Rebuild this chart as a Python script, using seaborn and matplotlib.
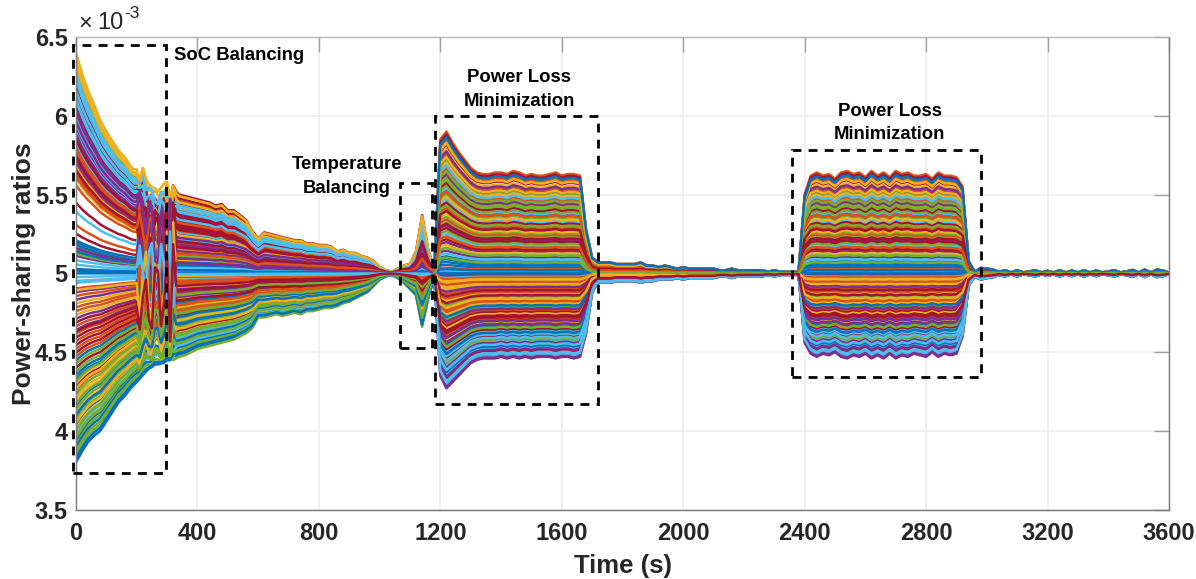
# coding: utf-8

import matplotlib
matplotlib.use("Agg")
import matplotlib.pyplot as plt
from matplotlib.patches import Rectangle
import seaborn as sns
import pandas as pd
import numpy as np

# MATLAB default line colours, the lines cycle through them
matlab_colors = ["#0072BD", "#D95319", "#EDB120", "#7E2F8E", "#77AC30", "#4DBEEE", "#A2142F"]

# sample times (s)
time = [0, 20, 40, 60, 80, 100, 120, 140, 160, 180,
        190, 200, 210, 220, 230, 240, 250, 260, 270, 280, 290, 300, 310, 320, 330,
        340, 360, 380, 400, 420, 440, 460, 480, 500, 520, 540, 560, 580, 600,
        620, 640, 660, 680, 700, 720, 740, 760, 780, 800, 820, 840, 860, 880, 900, 920, 940, 960, 980, 1000,
        1020, 1040, 1060, 1080, 1100, 1120, 1140, 1160, 1180, 1200,
        1220, 1240, 1260, 1280, 1300, 1320, 1340, 1360, 1380, 1400, 1420, 1440, 1460, 1480, 1500, 1520, 1540,
        1560, 1580, 1600, 1620, 1640, 1660,
        1680, 1700, 1720, 1740, 1760, 1780, 1800, 1820, 1840, 1860, 1880, 1900, 1920, 1940, 1960, 1980, 2000,
        2020, 2040, 2060, 2080, 2100, 2120, 2140, 2160, 2180, 2200, 2220, 2240, 2260, 2280, 2300, 2320, 2340,
        2360, 2380,
        2400, 2420, 2440, 2460, 2480, 2500, 2520, 2540, 2560, 2580, 2600, 2620, 2640, 2660, 2680, 2700, 2720,
        2740, 2760, 2780, 2800, 2820, 2840, 2860, 2880, 2900,
        2920, 2940, 2960, 2980, 3000, 3020, 3040, 3060, 3080, 3100, 3120, 3140, 3160, 3180, 3200, 3220, 3240,
        3260, 3280, 3300, 3320, 3340, 3360, 3380, 3400, 3420, 3440, 3460, 3480, 3500, 3520, 3540, 3560, 3580, 3600]

# outer edge of the bundle of lines (x 1e-3)
upper_edge = [6.40, 6.27, 6.16, 6.07, 5.97, 5.90, 5.84, 5.78, 5.74, 5.68,
              5.66, 5.66, 5.63, 5.70, 5.62, 5.60, 5.58, 5.55, 5.53, 5.57, 5.59, 5.59, 5.50, 5.56, 5.52,
              5.50, 5.49, 5.48, 5.47, 5.46, 5.45, 5.43, 5.44, 5.40, 5.40, 5.37, 5.34, 5.27, 5.22,
              5.26, 5.25, 5.24, 5.23, 5.22, 5.21, 5.21, 5.19, 5.19, 5.18, 5.18, 5.17, 5.14, 5.15, 5.13, 5.13, 5.11, 5.10, 5.08, 5.04,
              5.02, 5.01, 5.03, 5.05, 5.06, 5.14, 5.37, 5.15, 5.03, 5.85,
              5.90, 5.83, 5.77, 5.72, 5.67, 5.64, 5.63, 5.63, 5.64, 5.64, 5.63, 5.65, 5.64, 5.62, 5.63, 5.62, 5.62,
              5.63, 5.64, 5.62, 5.63, 5.63, 5.62,
              5.28, 5.10, 5.07, 5.07, 5.07, 5.06, 5.06, 5.06, 5.06, 5.07, 5.05, 5.05, 5.04, 5.05, 5.04, 5.03, 5.04, 5.03,
              5.03, 5.03, 5.03, 5.03, 5.02, 5.02, 5.03, 5.02, 5.02, 5.02, 5.02, 5.02, 5.01, 5.02, 5.01, 5.01,
              5.01, 5.01,
              5.50, 5.62, 5.64, 5.62, 5.63, 5.60, 5.64, 5.65, 5.63, 5.64, 5.61, 5.65, 5.62, 5.64, 5.61, 5.65, 5.63,
              5.64, 5.62, 5.62, 5.63, 5.60, 5.64, 5.62, 5.62, 5.61,
              5.55, 5.08, 5.01, 5.035, 5.03, 5.025, 5.01, 5.02, 5.006, 5.02, 5.006, 5.012, 5.02, 5.006, 5.016, 5.006, 5.02,
              5.006, 5.018, 5.006, 5.02, 5.006, 5.018, 5.006, 5.012, 5.02, 5.006, 5.012, 5.022, 5.006, 5.024, 5.006, 5.024, 5.018, 5.005]

lower_edge = [3.80, 3.87, 3.93, 3.97, 4.00, 4.06, 4.12, 4.18, 4.22, 4.27,
              4.29, 4.31, 4.33, 4.35, 4.37, 4.39, 4.40, 4.41, 4.41, 4.42, 4.42, 4.43, 4.44, 4.45, 4.46,
              4.47, 4.48, 4.50, 4.52, 4.53, 4.54, 4.55, 4.56, 4.57, 4.58, 4.60, 4.62, 4.65, 4.72,
              4.72, 4.73, 4.74, 4.73, 4.74, 4.75, 4.74, 4.76, 4.76, 4.77, 4.78, 4.78, 4.79, 4.81, 4.82, 4.84, 4.86, 4.88, 4.92, 4.96,
              4.98, 4.99, 4.97, 4.94, 4.90, 4.86, 4.66, 4.84, 4.97, 4.35,
              4.27, 4.31, 4.35, 4.39, 4.43, 4.45, 4.46, 4.46, 4.46, 4.47, 4.46, 4.47, 4.46, 4.47, 4.46, 4.47, 4.47,
              4.47, 4.46, 4.47, 4.47, 4.46, 4.47,
              4.62, 4.88, 4.94, 4.94, 4.94, 4.95, 4.95, 4.95, 4.95, 4.94, 4.95, 4.95, 4.96, 4.96, 4.96, 4.97, 4.96, 4.97,
              4.97, 4.97, 4.97, 4.97, 4.98, 4.98, 4.97, 4.98, 4.98, 4.98, 4.98, 4.98, 4.99, 4.98, 4.99, 4.99,
              4.99, 4.99,
              4.56, 4.49, 4.47, 4.49, 4.48, 4.50, 4.47, 4.46, 4.48, 4.47, 4.49, 4.46, 4.48, 4.46, 4.49, 4.46, 4.48,
              4.47, 4.49, 4.48, 4.47, 4.50, 4.47, 4.49, 4.48, 4.49,
              4.60, 4.92, 4.98, 4.96, 4.97, 4.975, 4.99, 4.98, 4.994, 4.98, 4.994, 4.988, 4.98, 4.994, 4.984, 4.994, 4.98,
              4.994, 4.982, 4.994, 4.98, 4.994, 4.982, 4.994, 4.988, 4.98, 4.994, 4.988, 4.978, 4.994, 4.976, 4.994, 4.976, 4.982, 4.995]

# where each line sits inside the bundle (-1 lower edge, 1 upper edge),
# one row per colour cycle: at the start, after the SoC phase, during power loss
start_level = [-1.00, 0.55, 1.00, 0.72, 0.93, 0.86, 0.44,
               -0.80, -0.62, 0.90, 0.66, 0.82, 0.77, 0.32,
               0.02, 0.50, -0.74, 0.60, -0.96, 0.70, 0.45,
               0.12, 0.46, 0.97, 0.54, -0.90, 0.64, -0.60,
               -0.70, 0.22, 0.48, 0.10, 0.11, 0.28, 0.58,
               0.15, -0.44, -0.82, 0.12, -0.86, 0.125, -0.50,
               0.00, -0.36, -0.66, 0.80, -0.78, -0.02, 0.52,
               -0.92, -0.28, 0.43, 0.08, -0.72, 0.04, -0.42,
               0.14, -0.20, -0.58, -0.10, 0.09, -0.84, -0.34,
               -0.54, 0.40, -0.16, 0.59, -0.64, 0.68, 0.75,
               -0.46, -0.12, 0.62, -0.24, -0.52, 0.58, 0.47,
               -0.88, -0.08, 0.13, -0.30, -0.76, -0.05, 0.84,
               0.13, -0.32, -0.68, 0.51, -0.94, 0.79, -0.38,
               -0.56, 0.56, -0.22, -0.14, -0.83, 0.91, 0.18,
               0.01, -0.40, -0.61, 0.74, -0.48, 0.88, -0.26,
               -0.98, 0.57, 0.95, 0.63, -0.69, -0.04, 0.61,
               0.10, -0.18, -0.79, 0.115, -0.87, 0.83, 0.53,
               -0.75, 0.44, -0.09, 0.69, -0.57, 0.06, -0.31]

mid_level = [-0.97, 0.92, 0.06, 0.72, -1.00, 0.84, 1.00,
             -0.84, 0.80, 0.64, 0.60, -0.90, -0.93, 0.88,
             0.03, 0.68, -0.14, 0.50, -0.78, 0.76, 0.95,
             0.18, 0.56, 0.85, 0.42, -0.66, 0.46, 0.74,
             -0.72, 0.38, 0.30, -0.05, 0.12, 0.34, 0.62,
             0.08, -0.60, -0.30, 0.24, -0.54, 0.15, -0.82,
             -0.02, -0.48, -0.70, 0.20, -0.42, -0.76, 0.58,
             -0.88, -0.36, 0.26, -0.10, -0.58, 0.01, -0.68,
             0.10, -0.24, -0.40, -0.18, 0.22, -0.86, -0.50,
             -0.62, 0.32, -0.06, 0.28, -0.74, 0.52, 0.66,
             -0.34, -0.12, 0.48, -0.22, -0.46, 0.78, 0.40,
             -0.80, 0.05, 0.16, -0.28, -0.64, -0.08, 0.70,
             0.14, -0.38, -0.56, 0.36, -0.94, 0.44, -0.32,
             -0.52, 0.54, -0.16, -0.04, -0.92, 0.82, 0.60,
             0.00, -0.44, 0.90, 0.35, -0.26, 0.86, -0.20,
             -0.95, 0.64, 0.98, 0.45, -0.72, 0.07, 0.33,
             0.04, -0.09, -0.66, 0.19, -0.83, 0.68, 0.55,
             -0.60, 0.25, -0.03, 0.13, -0.48, -0.01, -0.15]

loss_level = [-0.90, 1.00, 0.97, -1.00, 0.80, 0.60, 0.98,
              -0.76, 0.94, 0.88, -0.96, 0.68, -0.98, 0.91,
              0.01, 0.84, -0.12, 0.86, 0.62, 0.52, -0.86,
              0.12, 0.74, 0.78, 0.70, 0.56, 0.44, -0.70,
              -0.62, 0.48, 0.66, -0.03, 0.40, 0.28, 0.64,
              0.06, -0.54, -0.24, 0.34, -0.50, -0.80, -0.74,
              -0.01, -0.44, -0.58, 0.58, 0.30, -0.68, -0.92,
              -0.84, -0.34, 0.42, 0.16, -0.78, 0.02, -0.66,
              0.08, -0.22, -0.36, -0.82, 0.26, -0.88, -0.46,
              -0.56, 0.38, -0.08, 0.22, -0.64, 0.76, 0.32,
              -0.30, -0.10, 0.54, -0.60, -0.40, -0.72, 0.50,
              -0.70, 0.04, 0.20, 0.82, -0.28, -0.06, -0.52,
              0.10, -0.32, -0.48, -0.42, 0.36, -0.94, -0.26,
              -0.38, 0.46, -0.14, -0.02, 0.72, -0.76, 0.24,
              0.00, -0.18, 0.92, -0.16, 0.66, 0.14, -0.20,
              -0.86, 0.58, 0.82, -0.90, 0.18, -0.04, 0.35,
              0.03, -0.05, -0.30, -0.56, 0.48, -0.84, 0.44,
              0.96, 0.26, -0.07, -0.99, 0.11, -0.95, -0.50]

# when the lines move from one ordering to the next
order_time = [0, 200, 320, 1170, 1190, 3600]
order_step = [0, 0, 1, 1, 2, 2]

# the oscillation at the end of the SoC phase
swing_time = [200, 210, 220, 230, 240, 250, 260, 270, 280, 290, 300, 310, 320, 330]
swing_value = [0, -0.25, 0.05, 0.2, -0.2, -0.3, 0.25, 0.2, -0.3, -0.1, 0.3, -0.45, 0.35, 0]
swing_gain = [0.6, -0.8, 1.0, -1.0, 0.7, -0.6, 0.9]

xticks = [0, 400, 800, 1200, 1600, 2000, 2400, 2800, 3200, 3600]
yticks = [3.5, 4, 4.5, 5, 5.5, 6, 6.5]
yticklabels = ["3.5", "4", "4.5", "5", "5.5", "6", "6.5"]

# x, y, width, height of the dashed boxes
boxes = [(-10, 3.735, 306, 2.714),
         (1067, 4.526, 105, 1.047),
         (1182, 4.17, 537, 1.828),
         (2358, 4.34, 623, 1.44)]

labels = [(323, 6.38, "SoC Balancing", "left"),
          (893, 5.69, "Temperature", "center"),
          (893, 5.54, "Balancing", "center"),
          (1460, 6.24, "Power Loss", "center"),
          (1460, 6.09, "Minimization", "center"),
          (2680, 6.03, "Power Loss", "center"),
          (2680, 5.88, "Minimization", "center")]

sns.set_theme(style="whitegrid")
plt.rcParams["font.family"] = ["Liberation Sans", "DejaVu Sans"]

t = np.array(time, dtype=float)
up = np.array(upper_edge) - 5
down = 5 - np.array(lower_edge)
step = np.interp(t, order_time, order_step)
swing = np.interp(t, swing_time, swing_value, left=0, right=0)

rows = []
for i in range(len(start_level)):
    level = np.interp(step, [0, 1, 2], [start_level[i], mid_level[i], loss_level[i]])
    ratio = 5 + np.clip(level, 0, None) * up + np.clip(level, None, 0) * down
    ratio = ratio + swing * swing_gain[i % 7] * (1 - np.abs(level))
    rows.append(pd.DataFrame({"time": t, "ratio": ratio, "line": i}))
df = pd.concat(rows)

fig = plt.figure(figsize=(11.96, 5.79), dpi=100)
ax = fig.add_axes([76 / 1196, 1 - 509.7 / 579, (1169 - 76) / 1196, (509.7 - 37) / 579])

palette = [matlab_colors[i % 7] for i in range(len(start_level))]
sns.lineplot(data=df, x="time", y="ratio", hue="line", palette=palette, legend=False,
             estimator=None, sort=False, linewidth=1.8, ax=ax)

ax.set_xlim(0, 3600)
ax.set_ylim(3.5, 6.5)
ax.set_xticks(xticks)
ax.set_yticks(yticks)
ax.set_yticklabels(yticklabels)
ax.grid(True, color="#eeeeee", linewidth=1.2)
ax.set_axisbelow(True)
ax.tick_params(axis="both", direction="in", length=11, width=1, color="#a0a0a0", top=True, right=True,
               labelsize=17, labelcolor="#262626", pad=6)
ax.tick_params(axis="x", pad=9)
for lab in ax.get_xticklabels() + ax.get_yticklabels():
    lab.set_fontweight("bold")
for s in ax.spines.values():
    s.set_color("#7a7a7a")
    s.set_linewidth(1.0)
ax.spines["top"].set_color("#b5b5b5")

ax.set_xlabel("Time (s)", fontsize=18.5, fontweight="bold", color="#262626", labelpad=6)
ax.set_ylabel("Power-sharing ratios", fontsize=19, fontweight="bold", color="#262626", labelpad=-1)

for x, y, w, h in boxes:
    ax.add_patch(Rectangle((x, y), w, h, fill=False, edgecolor="black", linewidth=2.0,
                           linestyle=(0, (3.2, 2.6)), clip_on=False, zorder=5))
for x, y, s, ha in labels:
    ax.text(x, y, s, ha=ha, va="center", fontsize=13.3, fontweight="bold", color="black", zorder=6)

fig.text(78 / 1196, 1 - 24 / 579, "\u00d7", fontsize=17, color="#262626", va="center")
fig.text(97 / 1196, 1 - 23 / 579, "10", fontsize=17, color="#262626", va="center")
fig.text(124 / 1196, 1 - 13 / 579, "-3", fontsize=12.5, color="#262626", va="center")

plt.savefig("out.png", dpi=100)
